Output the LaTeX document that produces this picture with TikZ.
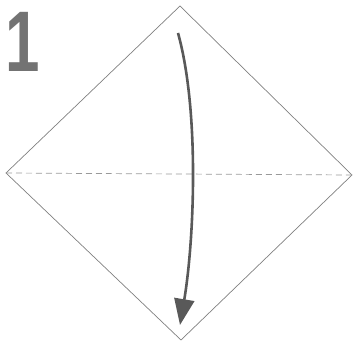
\documentclass[tikz,border=0pt]{standalone}
\usepackage{fontspec}
\newfontfamily\numfont{Liberation Sans}
\usetikzlibrary{arrows.meta}
\begin{document}
\begin{tikzpicture}[x=1pt,y=1pt,
  edge/.style={draw=black!50,line width=0.7pt},
  fold/.style={draw=black!40,line width=0.7pt,dash pattern=on 6pt off 4pt},
  arr/.style={draw=black!65,line width=2.6pt,-{Triangle[width=20pt,length=26pt]}}]
\useasboundingbox (0,0) rectangle (354,342);
\coordinate (T) at (180,336);
\coordinate (L) at (6,169);
\coordinate (R) at (352,167);
\coordinate (B) at (181,2);
\draw[edge] (T) -- (R) -- (B) -- (L) -- cycle;
\draw[fold] (L) -- (R);
\coordinate (A0) at (178,309);
\coordinate (A1) at (180,17);
\draw[arr] (A0) .. controls (200,230) and (194,100) .. (A1);
\node[anchor=base west,inner sep=0pt,text=black!55,xscale=0.72] (num) at (5,270)
  {\fontsize{86}{86}\selectfont\numfont\bfseries 1};
\end{tikzpicture}
\end{document}
